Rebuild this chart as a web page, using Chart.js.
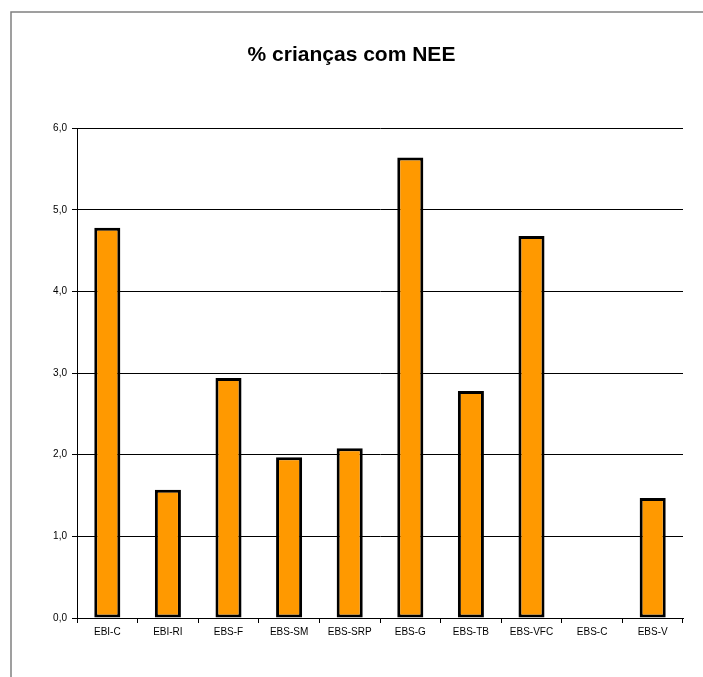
<!DOCTYPE html>
<html>
<head>
<meta charset="utf-8">
<script src="https://cdn.jsdelivr.net/npm/chart.js@4"></script>
<style>
    html, body { margin: 0; padding: 0; background: #fff; }
    #wrap { width: 703px; height: 677px; position: relative; }
</style>
</head>
<body>
<div id="wrap"><canvas id="neeChart" width="703" height="677"></canvas></div>
<script>
const escolas = ["EBI-C", "EBI-RI", "EBS-F", "EBS-SM", "EBS-SRP", "EBS-G", "EBS-TB", "EBS-VFC", "EBS-C", "EBS-V"];
const percentNEE = [4.78, 1.57, 2.94, 1.97, 2.08, 5.64, 2.78, 4.68, null, 1.47];
const yTicks = [0, 1, 2, 3, 4, 5, 6];

// moldura cinzenta do grafico (canto superior esquerdo)
const frame = {
    id: 'frame',
    beforeDraw(chart) {
        let ctx = chart.ctx;
        ctx.save();
        ctx.strokeStyle = "#808080";
        ctx.lineWidth = 1.5;
        ctx.beginPath();
        ctx.moveTo(11, chart.height);
        ctx.lineTo(11, 12);
        ctx.lineTo(chart.width, 12);
        ctx.stroke();
        ctx.restore();
    }
};

let ctx = document.getElementById('neeChart').getContext('2d');
new Chart(ctx, {
    type: 'bar',
    data: {
        labels: escolas,
        datasets: [{
            label: "% crianças com NEE",
            data: percentNEE,
            backgroundColor: "#FF9900",
            borderColor: "#000000",
            borderWidth: 3,
            borderSkipped: false,
            categoryPercentage: 1.0,
            barPercentage: 0.43
        }]
    },
    options: {
        responsive: false,
        animation: false,
        layout: { padding: { left: 20, right: 20, top: 0, bottom: 0 } },
        plugins: {
            legend: { display: false },
            tooltip: { enabled: false },
            title: {
                display: true,
                text: "% crianças com NEE",
                color: "#000",
                font: { family: "Liberation Sans", size: 21, weight: 'bold' },
                padding: { top: 43, bottom: 60 }
            }
        },
        scales: {
            x: {
                grid: {
                    display: true,
                    drawOnChartArea: false,
                    drawTicks: true,
                    tickLength: 5,
                    color: "#000",
                    offset: true
                },
                border: { color: "#000", width: 1 },
                ticks: {
                    color: "#000",
                    font: { family: "Liberation Sans", size: 10 },
                    padding: 3,
                    maxRotation: 0
                },
                afterFit(scale) { scale.height = 59; }
            },
            y: {
                min: 0,
                max: 6,
                afterBuildTicks(scale) { scale.ticks = yTicks.map(v => ({ value: v })); },
                grid: {
                    color: "#000",
                    lineWidth: 1,
                    tickLength: 5
                },
                border: { color: "#000", width: 1 },
                ticks: {
                    color: "#000",
                    font: { family: "Liberation Sans", size: 10 },
                    padding: 5,
                    callback: v => v.toFixed(1).replace('.', ',')
                },
                afterFit(scale) { scale.width = 57; }
            }
        }
    },
    plugins: [frame]
});
</script>
</body>
</html>
